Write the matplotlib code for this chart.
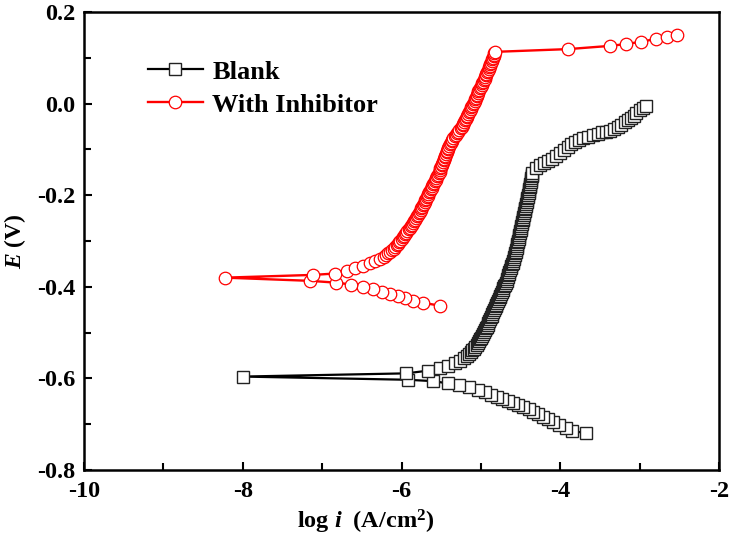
import matplotlib
matplotlib.use("Agg")
import matplotlib.pyplot as plt
from matplotlib.ticker import MultipleLocator, FormatStrFormatter

plt.rcParams['font.family'] = ['Liberation Serif', 'DejaVu Serif']
plt.rcParams['font.weight'] = 'bold'
plt.rcParams['axes.unicode_minus'] = False
plt.rcParams['mathtext.fontset'] = 'custom'
plt.rcParams['mathtext.rm'] = 'Liberation Serif:bold'
plt.rcParams['mathtext.it'] = 'Liberation Serif:bold:italic'
plt.rcParams['mathtext.bf'] = 'Liberation Serif:bold'

# ---------------- data (log i in A/cm2, E in V) ----------------
blank_logi = [
    -3.68, -3.85, -3.93, -4.02, -4.09, -4.15, -4.22, -4.28, -4.34, -4.40,
    -4.47, -4.53, -4.59, -4.66, -4.73, -4.80, -4.87, -4.95, -5.04, -5.15,
    -5.27, -5.41, -5.60, -5.92, -8.00,
    -5.94, -5.66, -5.52, -5.41, -5.33, -5.26, -5.21,
    -5.18, -5.155, -5.13, -5.11, -5.09, -5.07, -5.055, -5.04, -5.025, -5.01,
    -4.995, -4.985, -4.975, -4.96, -4.95, -4.935, -4.925, -4.915, -4.905, -4.895,
    -4.885, -4.875, -4.865, -4.855, -4.845, -4.835, -4.825, -4.815, -4.805, -4.795,
    -4.785, -4.775, -4.765, -4.755, -4.745, -4.735, -4.725, -4.715, -4.705, -4.695,
    -4.685, -4.675, -4.67, -4.66, -4.655, -4.645, -4.64, -4.63, -4.625, -4.615,
    -4.61, -4.60, -4.595, -4.585, -4.58, -4.575, -4.565, -4.56, -4.555, -4.55,
    -4.545, -4.54, -4.535, -4.53, -4.525, -4.52, -4.515, -4.51, -4.505, -4.50,
    -4.495, -4.49, -4.485, -4.48, -4.475, -4.47, -4.465, -4.46, -4.455, -4.45,
    -4.445, -4.44, -4.435, -4.43, -4.425, -4.42, -4.415, -4.41, -4.405, -4.40,
    -4.395, -4.39, -4.385, -4.38, -4.375, -4.37, -4.37, -4.365, -4.36, -4.355,
    -4.35,
    -4.30, -4.25, -4.20, -4.15, -4.10, -4.05, -4.00, -3.95, -3.90, -3.86,
    -3.81, -3.76, -3.71, -3.65, -3.585, -3.53, -3.48, -3.42, -3.375, -3.32,
    -3.27, -3.23, -3.19, -3.15, -3.11, -3.07, -3.04, -3.00, -2.96, -2.915,
]
blank_E = [
    -0.720, -0.714, -0.709, -0.702, -0.695, -0.689, -0.684, -0.678, -0.673, -0.667,
    -0.663, -0.659, -0.654, -0.649, -0.645, -0.640, -0.636, -0.630, -0.625, -0.619,
    -0.614, -0.611, -0.606, -0.603, -0.596,
    -0.589, -0.583, -0.578, -0.573, -0.567, -0.561, -0.555,
    -0.551, -0.547, -0.543, -0.539, -0.535, -0.531, -0.527, -0.523, -0.519, -0.515,
    -0.511, -0.507, -0.503, -0.499, -0.495, -0.491, -0.487, -0.483, -0.479, -0.475,
    -0.471, -0.467, -0.463, -0.459, -0.455, -0.451, -0.447, -0.443, -0.439, -0.435,
    -0.431, -0.427, -0.423, -0.419, -0.415, -0.411, -0.407, -0.403, -0.399, -0.395,
    -0.391, -0.387, -0.383, -0.379, -0.375, -0.371, -0.367, -0.363, -0.359, -0.355,
    -0.351, -0.347, -0.343, -0.339, -0.335, -0.331, -0.327, -0.323, -0.319, -0.315,
    -0.311, -0.307, -0.303, -0.299, -0.295, -0.291, -0.287, -0.283, -0.279, -0.275,
    -0.271, -0.267, -0.263, -0.259, -0.255, -0.251, -0.247, -0.243, -0.239, -0.235,
    -0.231, -0.227, -0.223, -0.219, -0.215, -0.211, -0.207, -0.203, -0.199, -0.195,
    -0.191, -0.187, -0.183, -0.179, -0.175, -0.171, -0.167, -0.163, -0.159, -0.155,
    -0.151,
    -0.140, -0.135, -0.130, -0.126, -0.121, -0.114, -0.107, -0.101, -0.095, -0.089,
    -0.084, -0.079, -0.076, -0.072, -0.069, -0.066, -0.063, -0.061, -0.059, -0.055,
    -0.051, -0.046, -0.041, -0.036, -0.031, -0.026, -0.021, -0.015, -0.010, -0.005,
]

inh_logi = [
    -5.52, -5.73, -5.85, -5.95, -6.04, -6.14, -6.24, -6.36, -6.48, -6.63,
    -6.82, -7.15, -8.225,
    -7.11, -6.84, -6.69, -6.59, -6.48, -6.40, -6.33, -6.27,
    -6.22, -6.19, -6.165, -6.14, -6.12, -6.10, -6.08, -6.06, -6.045, -6.03,
    -6.015, -6.00, -5.985, -5.97, -5.955, -5.94, -5.925, -5.91, -5.895, -5.88,
    -5.865, -5.85, -5.84, -5.83, -5.815, -5.80, -5.79, -5.78, -5.77, -5.76,
    -5.75, -5.74, -5.73, -5.72, -5.71, -5.70, -5.69, -5.68, -5.67, -5.66,
    -5.65, -5.64, -5.63, -5.62, -5.61, -5.60, -5.59, -5.58, -5.57, -5.56,
    -5.55, -5.54, -5.53, -5.52, -5.515, -5.51, -5.50, -5.49, -5.485, -5.48,
    -5.47, -5.46, -5.455, -5.45, -5.44, -5.43, -5.425, -5.42, -5.41, -5.40,
    -5.39, -5.38, -5.37, -5.36, -5.345, -5.33, -5.315, -5.30, -5.285, -5.27,
    -5.255, -5.24, -5.23, -5.22, -5.21, -5.20, -5.19, -5.18, -5.17, -5.16,
    -5.15, -5.14, -5.13, -5.12, -5.11, -5.10, -5.09, -5.08, -5.07, -5.06,
    -5.055, -5.05, -5.04, -5.03, -5.02, -5.01, -5.00, -4.99, -4.98, -4.97,
    -4.96, -4.95, -4.945, -4.94, -4.93, -4.92, -4.91, -4.90, -4.895, -4.89,
    -4.88, -4.87, -4.865, -4.86, -4.85, -4.84, -4.835, -4.83, -4.82,
    -3.90, -3.375, -3.17, -2.985, -2.80, -2.66, -2.53,
]
inh_E = [
    -0.441, -0.435, -0.430, -0.425, -0.420, -0.416, -0.411, -0.405, -0.401, -0.395,
    -0.391, -0.387, -0.380,
    -0.374, -0.371, -0.365, -0.360, -0.354, -0.349, -0.344, -0.339,
    -0.3340, -0.3305, -0.3270, -0.3235, -0.3200, -0.3165, -0.3130, -0.3095, -0.3060, -0.3025,
    -0.2990, -0.2955, -0.2920, -0.2885, -0.2850, -0.2815, -0.2780, -0.2745, -0.2710, -0.2675,
    -0.2640, -0.2605, -0.2570, -0.2535, -0.2500, -0.2465, -0.2430, -0.2395, -0.2360, -0.2325,
    -0.2290, -0.2255, -0.2220, -0.2185, -0.2150, -0.2115, -0.2080, -0.2045, -0.2010, -0.1975,
    -0.1940, -0.1905, -0.1870, -0.1835, -0.1800, -0.1765, -0.1730, -0.1695, -0.1660, -0.1625,
    -0.1590, -0.1555, -0.1520, -0.1485, -0.1450, -0.1415, -0.1380, -0.1345, -0.1310, -0.1275,
    -0.1240, -0.1205, -0.1170, -0.1135, -0.1100, -0.1065, -0.1030, -0.0995, -0.0960, -0.0925,
    -0.0890, -0.0855, -0.0820, -0.0785, -0.0750, -0.0715, -0.0680, -0.0645, -0.0610, -0.0575,
    -0.0540, -0.0505, -0.0470, -0.0435, -0.0400, -0.0365, -0.0330, -0.0295, -0.0260, -0.0225,
    -0.0190, -0.0155, -0.0120, -0.0085, -0.0050, -0.0015, 0.0020, 0.0055, 0.0090, 0.0125,
    0.0160, 0.0195, 0.0230, 0.0265, 0.0300, 0.0335, 0.0370, 0.0405, 0.0440, 0.0475,
    0.0510, 0.0545, 0.0580, 0.0615, 0.0650, 0.0685, 0.0720, 0.0755, 0.0790, 0.0825,
    0.0860, 0.0895, 0.0930, 0.0965, 0.1000, 0.1035, 0.1070, 0.1100, 0.1130,
    0.119, 0.126, 0.130, 0.135, 0.141, 0.146, 0.150,
]

series_labels = ["Blank", "With Inhibitor"]
x_ticks = [-10, -8, -6, -4, -2]
y_ticks = [-0.8, -0.6, -0.4, -0.2, 0.0, 0.2]

# ---------------- figure ----------------
fig = plt.figure(figsize=(7.3, 5.47), dpi=100)
ax = fig.add_axes([84/730, 1 - 470/547, (719-84)/730, (470-12)/547])

ax.plot(blank_logi, blank_E, color='black', lw=1.6, marker='s', ms=8,
        mfc='white', mec='#222222', mew=1.0, label=series_labels[0])
ax.plot(inh_logi, inh_E, color='red', lw=1.7, marker='o', ms=9,
        mfc='white', mec='red', mew=0.9, label=series_labels[1])

ax.set_xlim(-10, -2)
ax.set_ylim(-0.8, 0.2)
ax.set_xticks(x_ticks)
ax.set_yticks(y_ticks)
ax.xaxis.set_minor_locator(MultipleLocator(1))
ax.yaxis.set_minor_locator(MultipleLocator(0.1))
ax.yaxis.set_major_formatter(FormatStrFormatter('%.1f'))
ax.tick_params(which='both', direction='in', top=False, right=False, width=1.5,
               labelsize=17.5)
ax.tick_params(which='major', length=6)
ax.tick_params(which='minor', length=5)
ax.tick_params(axis='x', pad=8)
ax.tick_params(axis='y', pad=6)
for lab in ax.get_xticklabels() + ax.get_yticklabels():
    lab.set_fontweight('bold')
for s in ax.spines.values():
    s.set_linewidth(1.8)

fig.text(15/730, 1 - 241/547, r'$E$ (V)', rotation=90, ha='center', va='center',
         fontsize=17, fontweight='bold')
fig.text(366/730, 1 - 522/547, r'log $i$  (A/cm$^{\mathbf{2}}$)', ha='center', va='center',
         fontsize=17.5, fontweight='bold')

leg = ax.legend(loc='upper left', bbox_to_anchor=(0.1, 0.895), frameon=False,
                fontsize=19, handlelength=2.1, handletextpad=0.35, labelspacing=0.36,
                borderaxespad=0, borderpad=0)
for t in leg.get_texts():
    t.set_fontweight('bold')

fig.savefig('out.png', dpi=100)
